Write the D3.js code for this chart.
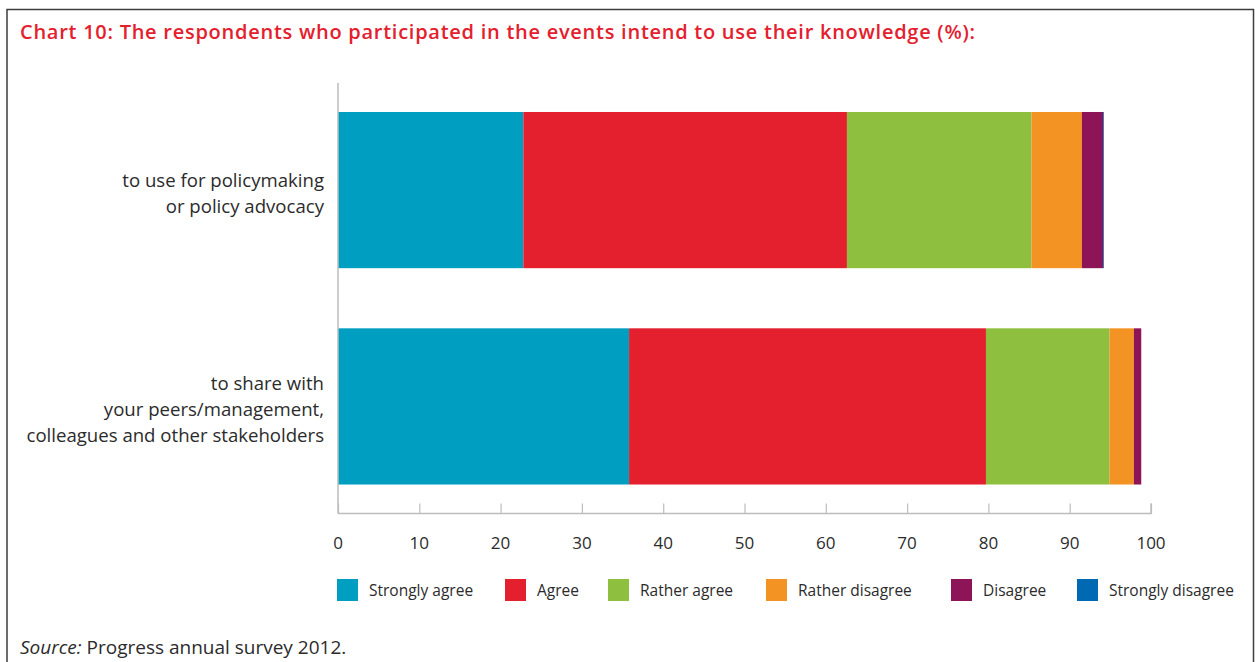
<!DOCTYPE html>
<html>
<head>
<meta charset="utf-8">
<script src="https://cdn.jsdelivr.net/npm/d3@7"></script>
<style>
  html, body { margin: 0; padding: 0; background: #fff; }
  svg { display: block; }
</style>
</head>
<body>
<svg id="chart" width="1255" height="662"></svg>
<script>
// Survey statements (each split over several lines)
const statements = [
  ["to use for policymaking", "or policy advocacy"],
  ["to share with", "your peers/management,", "colleagues and other stakeholders"]
];

// Answer categories and their shares (%) for each statement
const answers = ["Strongly agree", "Agree", "Rather agree", "Rather disagree", "Disagree", "Strongly disagree"];
const stronglyAgree    = [22.8, 35.8];
const agree            = [39.8, 43.9];
const ratherAgree      = [22.7, 15.2];
const ratherDisagree   = [6.2, 3.0];
const disagree         = [2.6, 0.9];
const stronglyDisagree = [0.1, 0.0];

const xTicks = [0, 10, 20, 30, 40, 50, 60, 70, 80, 90, 100];

const colors = ["#009fc2", "#e4202e", "#8fbf3f", "#f39323", "#8d1557", "#0069b4"];

const series = [stronglyAgree, agree, ratherAgree, ratherDisagree, disagree, stronglyDisagree];
const rows = statements.map((s, i) => {
  const r = { key: i };
  answers.forEach((a, j) => { r[a] = series[j][i]; });
  return r;
});

const svg = d3.select("#chart");
const bodyFont = "'Open Sans', 'Noto Sans', sans-serif";

// stretch a text element horizontally to a given width via letter spacing
function spreadTo(sel, width) {
  const node = sel.node();
  const n = node.getNumberOfChars();
  const w = node.getComputedTextLength();
  if (n > 1) sel.attr("letter-spacing", (width - w) / (n - 1));
}

// outer frame
svg.append("rect")
  .attr("x", 7).attr("y", 9.5)
  .attr("width", 1246.5).attr("height", 670)
  .attr("fill", "none").attr("stroke", "#3c3c3c").attr("stroke-width", 1.5);

// title
const title = svg.append("text")
  .attr("x", 20).attr("y", 38.5)
  .attr("fill", "#e4202e")
  .attr("font-family", bodyFont)
  .attr("font-weight", 600)
  .attr("font-size", 20)
  .text("Chart 10: The respondents who participated in the events intend to use their knowledge (%):");
spreadTo(title, 955);

const x = d3.scaleLinear().domain([0, 100]).range([338, 1151]);
const y = d3.scaleBand().domain(rows.map(d => d.key)).range([83, 513.5])
  .paddingInner(0.278).paddingOuter(0.134);

const stack = d3.stack().keys(answers);
const layers = stack(rows);

svg.append("g").selectAll("g")
  .data(layers)
  .join("g")
  .attr("fill", (d, i) => colors[i])
  .selectAll("rect")
  .data(d => d)
  .join("rect")
  .attr("x", d => x(d[0]))
  .attr("y", d => y(d.data.key))
  .attr("width", d => Math.max(0, x(d[1]) - x(d[0])))
  .attr("height", y.bandwidth());

// x axis
const xAxis = svg.append("g")
  .attr("transform", "translate(0,513.5)")
  .call(d3.axisTop(x).tickValues(xTicks).tickSize(10).tickFormat(""));
xAxis.select(".domain").attr("stroke", "#bdbdbd").attr("stroke-width", 1.5)
  .attr("d", `M${x(0)},0H${x(100)}V-10`);
xAxis.selectAll(".tick line").attr("stroke", "#bdbdbd").attr("stroke-width", 1.2);

svg.append("g").selectAll("text")
  .data(xTicks)
  .join("text")
  .attr("x", d => x(d))
  .attr("y", 549)
  .attr("text-anchor", "middle")
  .attr("fill", "#2b2b2b")
  .attr("font-family", bodyFont)
  .attr("font-size", 17)
  .text(d => d);

// y axis line
svg.append("line")
  .attr("x1", x(0)).attr("x2", x(0))
  .attr("y1", 83).attr("y2", 513.5)
  .attr("stroke", "#bdbdbd").attr("stroke-width", 1.5);

// category labels
const lineH = 26;
svg.append("g").selectAll("text")
  .data(rows)
  .join("text")
  .attr("text-anchor", "end")
  .attr("fill", "#2b2b2b")
  .attr("font-family", bodyFont)
  .attr("font-size", 18.6)
  .each(function(d) {
    const lines = statements[d.key];
    const cy = y(d.key) + y.bandwidth() / 2;
    d3.select(this).selectAll("tspan")
      .data(lines)
      .join("tspan")
      .attr("x", 324)
      .attr("y", (l, i) => cy + (i - (lines.length - 1) / 2) * lineH + 9.5)
      .text(l => l);
  });

// legend
const legendX = [337, 505, 608, 766, 951, 1077];
const legend = svg.append("g").selectAll("g")
  .data(answers)
  .join("g")
  .attr("transform", (d, i) => `translate(${legendX[i]},579)`);
legend.append("rect")
  .attr("width", 21).attr("height", 22)
  .attr("fill", (d, i) => colors[i]);
legend.append("text")
  .attr("x", 32).attr("y", 16.5)
  .attr("fill", "#2b2b2b")
  .attr("font-family", bodyFont)
  .attr("font-size", 15.5)
  .text(d => d);

// source note
const src = svg.append("text")
  .attr("x", 20).attr("y", 654)
  .attr("fill", "#2b2b2b")
  .attr("font-family", bodyFont)
  .attr("font-size", 19);
src.append("tspan").attr("font-style", "italic").text("Source:");
src.append("tspan").text(" Progress annual survey 2012.");
</script>
</body>
</html>
